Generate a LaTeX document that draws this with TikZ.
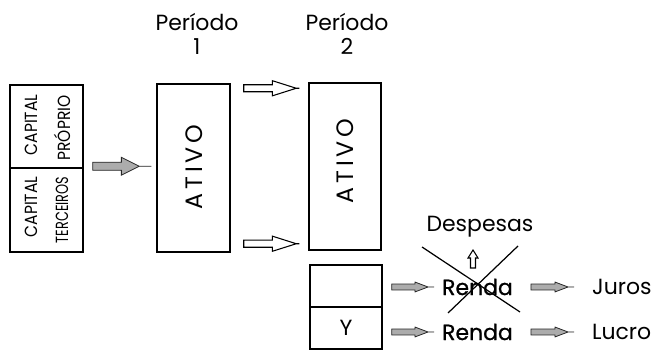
\documentclass[tikz,border=0pt]{standalone}
\usepackage{fontspec}
\setmainfont{Poppins}
\usetikzlibrary{calc}

\tikzset{
  box/.style={draw,line width=0.85pt,inner sep=0pt},
  lab/.style={inner sep=1pt,font=\fontsize{12.5}{13.6}\selectfont},
  caplab/.style={inner sep=0pt,rotate=90,font=\fontsize{10}{12}\selectfont\addfontfeature{FakeStretch=0.88}},
  ativolab/.style={inner sep=0pt,rotate=90,font=\fontsize{13.5}{15}\selectfont},
  hollow/.style={draw,fill=white,line width=0.6pt},
  shaded/.style={draw=gray!30!black,fill=gray!65,line width=0.45pt},
  fat/.style n args={4}{to path={let \p1=(\tikztostart), \p2=(\tikztotarget) in
    (\x1,\y1+#1) -- (\x2-#3-#4,\y1+#1) -- (\x2-#3-#4,\y1+#2) -- (\x2-#4,\y1)
    -- (\x2-#3-#4,\y1-#2) -- (\x2-#3-#4,\y1-#1) -- (\x1,\y1-#1) -- cycle
    (\x2-#4,\y1) -- (\x2,\y1)}}
}

\begin{document}
\begin{tikzpicture}[x=0.02cm,y=-0.02cm]
  \useasboundingbox (0,0) rectangle (652,350);
  % headings
  \node[lab,align=center] (per1) at (197,34) {Período\\1};
  \node[lab,align=center] (per2) at (347,34) {Período\\2};
  % capital
  \node[box,minimum width=1.46cm,minimum height=1.66cm] (capup) at (46.5,126.5) {};
  \node[box,minimum width=1.46cm,minimum height=1.68cm] (caplow) at (46.5,210) {};
  \node[caplab] (cap1) at (31,125) {CAPITAL};
  \node[caplab] (prop) at (62,128) {PRÓPRIO};
  \node[caplab,font=\fontsize{10}{12}\selectfont\addfontfeature{FakeStretch=0.73}] (terc) at (62,210) {TERCEIROS};
  \node[caplab] (cap2) at (31,207) {CAPITAL};
  % ativo in both periods
  \node[box,minimum width=1.46cm,minimum height=3.36cm] (ativo1) at (193.5,168) {};
  \node[ativolab] (atxt1) at (194,167) {A\,T\,I\,V\,O};
  \node[box,minimum width=1.44cm,minimum height=3.34cm] (ativo2) at (345,166.5) {};
  \node[ativolab] (atxt2) at (345,161) {A\,T\,I\,V\,O};
  \node[box,minimum width=1.44cm,minimum height=0.84cm] (yup) at (346,286) {};
  \node[box,minimum width=1.44cm,minimum height=0.84cm] (ylow) at (346,328) {};
  \node[lab] (ytxt) at (346,328) {Y};
  % income
  \node[lab,anchor=west,font=\fontsize{12.5}{13.6}\selectfont\addfontfeature{FakeBold=0.8}] (renda1) at (440,287) {Renda};
  \node[lab,anchor=west,font=\fontsize{12.5}{13.6}\selectfont\addfontfeature{FakeBold=0.8}] (renda2) at (440,332) {Renda};
  \node[lab] (desp) at (480,227) {Despesas};
  \node[lab,anchor=west] (juros) at (590,287) {Juros};
  \node[lab,anchor=west] (lucro) at (590,332) {Lucro};
  % arrows
  \draw[shaded,fat={2.3pt}{5.1pt}{10.2pt}{6.8pt}] ($(caplow.north east)+(9,-1)$) to ($(ativo1.west)+(-5,-1)$);
  \draw[hollow,fat={2pt}{4.3pt}{13.6pt}{1.7pt}] ($(ativo1.north east)+(13,5)$) to ($(ativo2.north west)+(-9,6)$);
  \draw[hollow,fat={2pt}{4.3pt}{13.6pt}{1.7pt}] ($(ativo1.south east)+(13,-9)$) to ($(ativo2.south west)+(-9,-7)$);
  \draw[shaded,fat={1.7pt}{2.8pt}{7.4pt}{3.4pt}] ($(yup.east)+(9,1)$) to ($(renda1.west)+(-6,0)$);
  \draw[shaded,fat={1.7pt}{2.8pt}{7.4pt}{3.4pt}] ($(ylow.east)+(9,4)$) to ($(renda2.west)+(-6,0)$);
  \draw[shaded,fat={1.7pt}{2.8pt}{7.4pt}{3.4pt}] ($(renda1.east)+(16,0)$) to ($(juros.west)+(-16,0)$);
  \draw[shaded,fat={1.7pt}{2.8pt}{7.4pt}{3.4pt}] ($(renda2.east)+(16,0)$) to ($(lucro.west)+(-16,0)$);
  \draw[hollow] (470.5,268) -- (470.5,258) -- (468,258) -- (473,250) -- (478,258) -- (475.5,258) -- (475.5,268) -- cycle;
  % crossed out
  \draw[line width=0.7pt] (422,247) -- (520,312);
  \draw[line width=0.7pt] (518,246) -- (448,313);
\end{tikzpicture}
\end{document}
